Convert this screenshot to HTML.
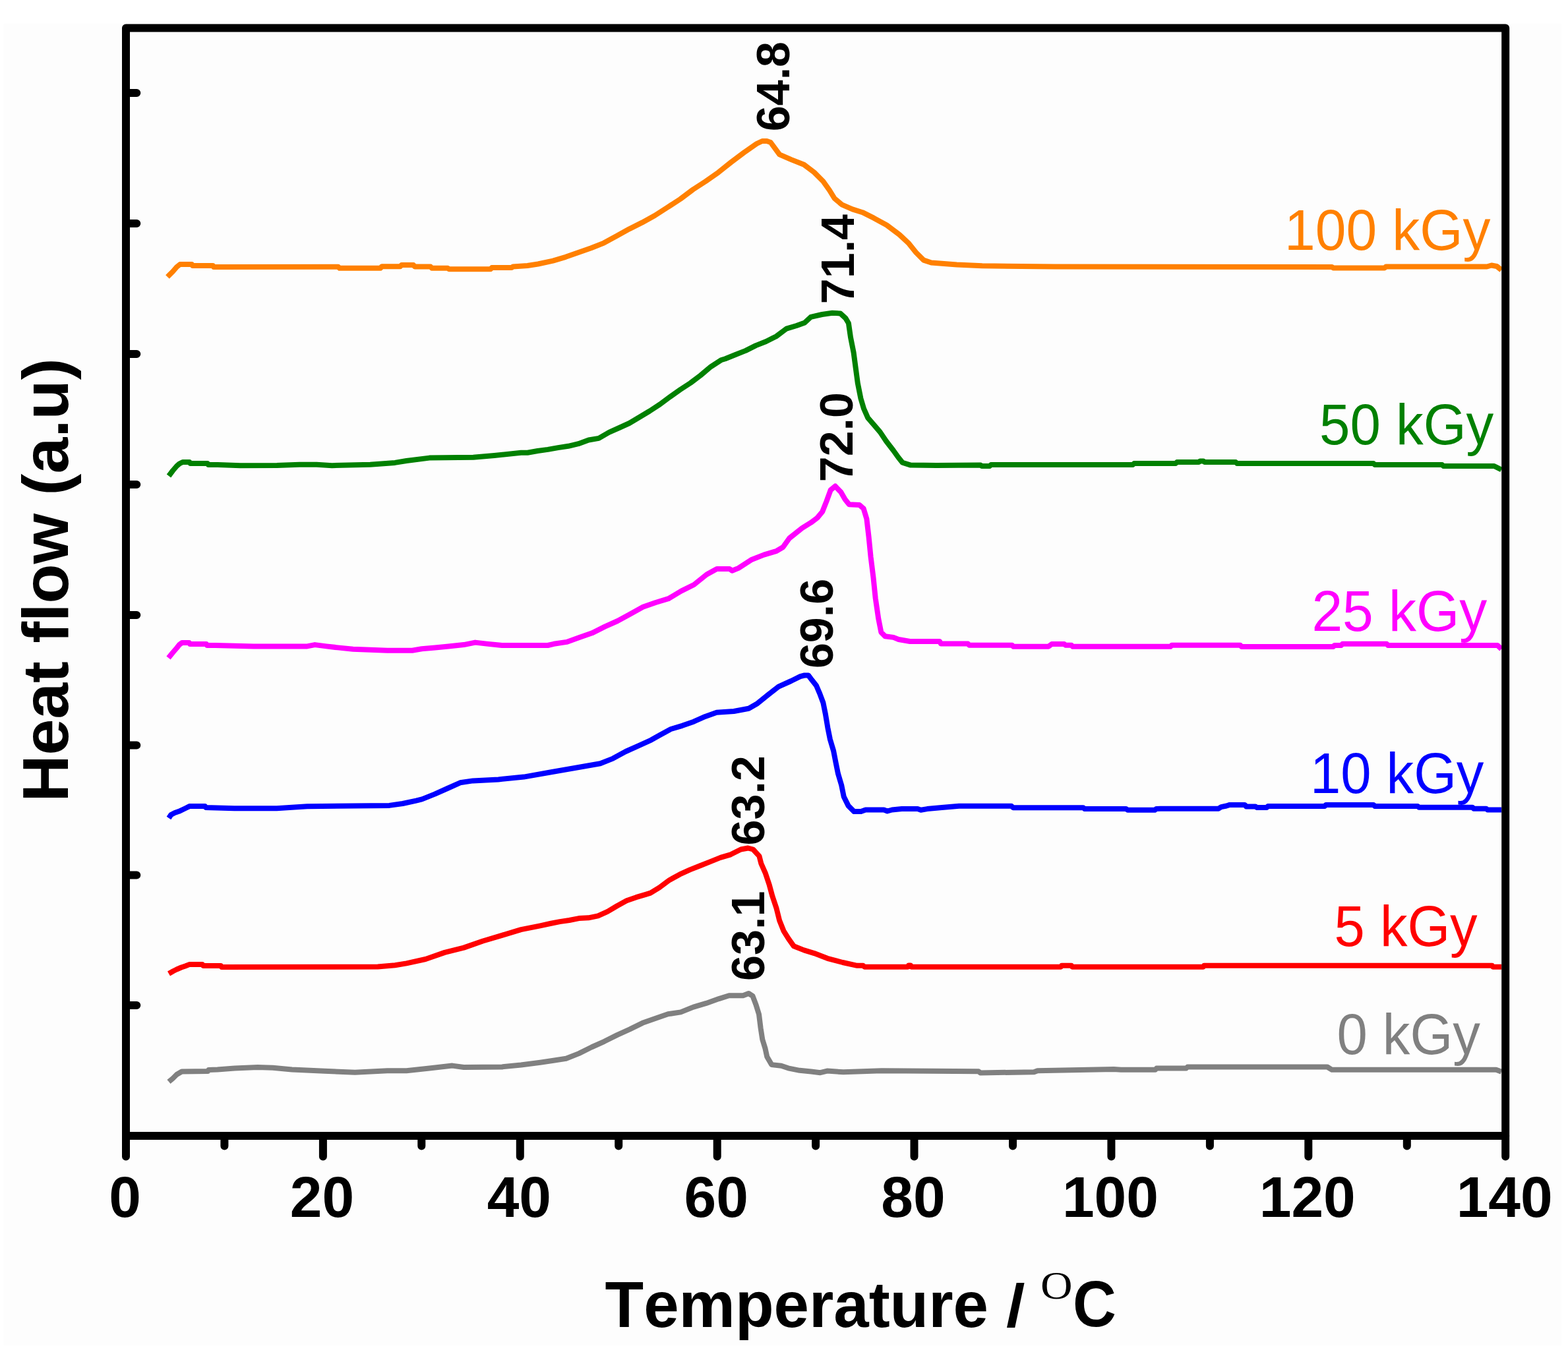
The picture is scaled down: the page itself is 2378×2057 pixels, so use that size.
<!DOCTYPE html>
<html><head><meta charset="utf-8"><title>Heat flow vs Temperature</title>
<style>html,body{margin:0;padding:0;background:#ffffff;overflow:hidden}svg{display:block}text{font-kerning:none;font-variant-ligatures:none}</style></head><body>
<svg width="2378" height="2057" viewBox="0 0 2378 2057">
<rect width="2378" height="2057" fill="#ffffff"/>
<rect x="5" y="36" width="2363" height="2005" fill="#fdfdfd"/>
<g fill="none" stroke-width="8" stroke-linejoin="round" stroke-linecap="butt">
<polyline stroke="#808080" points="256,1641 262,1636 268,1630 275.7,1625.5 315.3,1625 316.3,1623 329.8,1622.4 355.8,1620.4 390.6,1619 413.8,1619.8 442.7,1622.4 492,1624.8 538.3,1626.8 587.5,1624.2 616.5,1624.2 651.2,1620.4 686,1616.6 703.4,1619 761.3,1618.4 790.2,1615.5 819.2,1611.7 839.3,1608.7 858.6,1605.8 877.9,1598.1 897.2,1588.5 916.5,1579.8 935.8,1570.1 955.1,1561.4 974.4,1551.8 993.7,1545 1013.1,1538.3 1032.4,1535.4 1051.7,1527.6 1071,1521.9 1090.3,1515.1 1105.7,1510.3 1126.9,1510.3 1135.4,1507 1141.5,1510.8 1146.7,1524.7 1151,1538.6 1153.6,1559.5 1156.3,1576.9 1160.6,1590.8 1163.2,1602.9 1170.2,1615.1 1184.9,1616.8 1195.3,1620.3 1212.7,1623.8 1230.1,1625.5 1244,1627.2 1254.4,1624.6 1278.9,1626.3 1336.8,1624.2 1484.1,1625.2 1486.7,1627.4 1568.2,1626.3 1573.5,1624.2 1689.2,1622.1 1700,1622.8 1752,1622.8 1754,1620.5 1799,1620.5 1801,1618.5 2013,1618.5 2020,1622.8 2269,1622.8 2277,1625.8"/>
<polyline stroke="#ff0000" points="256,1477 263,1473 268,1470.5 275,1467.5 281,1465.5 287,1463.1 307,1463.1 308,1465 335,1465 336,1467 573,1466.6 599.1,1464.3 616.5,1461.4 645.4,1455 674.4,1444.9 703.4,1437.6 732.3,1427.5 761.3,1418.8 790.2,1410.1 819.2,1404.3 834.5,1401 849,1398.1 863.4,1396 877.9,1393.1 892.4,1392.3 906.9,1389.4 921.3,1382.9 935.8,1374.2 950.3,1366.3 964.8,1361.2 979.3,1356.9 986.5,1354.7 1000,1346.4 1015.4,1334.9 1030.9,1326.4 1046.3,1319.4 1061.8,1313.2 1077.2,1307.1 1092.7,1300.9 1108.1,1296.3 1123.6,1288.5 1134.4,1286.5 1142.1,1288.5 1151.4,1298.6 1154.4,1310.2 1160.6,1324.1 1166.8,1342.6 1171.4,1359.6 1177.6,1378.1 1182.2,1396.6 1188.4,1412.1 1196.1,1424.4 1203.9,1435.3 1219.3,1441.4 1234.8,1446.1 1254.8,1453.8 1278,1460 1300,1464.8 1309,1464.8 1311,1466.7 1377,1466.7 1378,1464.5 1381,1464.5 1382,1466.7 1609,1466.7 1610,1464.8 1625,1464.8 1626,1466.7 1825,1466.7 1826,1464.8 2263,1464.8 2264,1466.7 2277,1466.7"/>
<polyline stroke="#0000ff" points="256,1241 259.3,1236 265,1233 271.4,1230.8 281.5,1226 287.3,1223.1 311,1223.1 312,1225 355.8,1226.2 419.6,1226.2 465.9,1223.3 590.4,1221.9 610.7,1219 631,1214.6 640,1212.4 659.3,1204.6 678.6,1196 697.9,1187.3 717.2,1184.4 755.8,1182.4 794.4,1178.6 833,1171.8 871.7,1165 910.3,1158.3 929.6,1150.6 948.9,1140 968.2,1131.3 987.5,1122.6 1000,1115.5 1017.4,1106 1034.7,1100.8 1052.1,1094.7 1069.5,1086.9 1086.9,1080.8 1112.9,1079 1135.5,1074.7 1147.7,1067.8 1165,1053.9 1180.7,1041.7 1199.8,1033 1213.7,1026.1 1220,1024.5 1226,1024.5 1231.1,1031.3 1238,1040 1243.2,1052.1 1248.4,1066 1251.9,1083.4 1255.4,1104.2 1258.9,1121.6 1264.1,1139 1267.5,1156.4 1271,1173.7 1276.2,1191.1 1279.7,1208.5 1286.6,1222.4 1295.3,1231.1 1305.8,1231.1 1312.7,1228.5 1340.5,1228.5 1345.7,1230.5 1352.7,1228.5 1367.6,1227.1 1391.7,1227.1 1396.5,1228.8 1406.2,1227.1 1425.5,1225.2 1454.4,1222.8 1534,1222.8 1536.5,1225.2 1642.7,1225.2 1645.1,1227.1 1707.8,1227.1 1710.2,1228.8 1751.3,1228.8 1753.7,1226.9 1760,1226.7 1848,1226.7 1852,1224.2 1860,1222.5 1865,1220.9 1888,1220.9 1890,1223.4 1904,1223.4 1906,1225 1921,1225 1923,1222.9 2009,1222.9 2011,1220.9 2083,1220.9 2085,1222.9 2150,1222.9 2152,1224.7 2233,1224.7 2235,1226.7 2254,1226.7 2256,1228.5 2277,1228.5"/>
<polyline stroke="#ff00ff" points="255.5,998 262,990 268,983 272,978 276,975 287,975 288,977 313,977 314,979 326.9,979 384.8,980.4 465.9,980.4 477.5,978.1 494.8,980.4 512.2,982.4 535.4,984.8 587.5,986.8 625.2,986.8 639.6,984.2 659.9,982.4 680.2,980.4 703.4,978.1 720.7,974.6 738.1,976.6 761.3,979 830.8,979 840,976.8 859.3,973.9 878.6,967.1 897.9,960.3 917.2,950.7 936.5,942 955.8,931.4 975.1,920.8 994.4,914 1013.7,908.2 1033,896.6 1052.4,887 1071.7,871.5 1087.1,862.9 1106.4,862.9 1110.3,865.8 1119.9,861.9 1139.2,849.3 1158.5,841.6 1177.8,835.8 1187.5,830 1197.1,816.5 1216.4,801.1 1230,792.7 1239.4,785.6 1247.2,776.3 1253.4,760.6 1259.7,743.4 1266.7,737.5 1275.3,746.6 1281.6,757.5 1287.8,765.3 1303.4,766.1 1309.7,771.6 1314.4,787.2 1317.5,813.8 1320.6,845 1324.5,876.3 1327.7,907.5 1332.3,938.8 1336.3,959.1 1342.5,965.3 1355,966.9 1362.8,970 1380,973 1425,973 1427,976.6 1468,976.6 1470,978.8 1535,978.8 1537,980.8 1590,980.8 1595,977.1 1614,977.1 1616,978.8 1625,978.8 1627,980.8 1775,980.8 1777,978.8 1881,978.8 1883,980.9 2022,980.9 2024,978.9 2034,978.9 2036,976.8 2103,976.8 2105,978.9 2271,978.9 2277,984.5"/>
<polyline stroke="#008000" points="256,722 262,714 268,707 272,703.5 277,701 287.5,701 288.5,703 314.8,703 315.8,705 330,705 364.5,706.2 420,706 454.3,704.8 480,704.8 503.5,706.2 561.5,704.8 599,701.9 616.5,699 651.2,694.6 717.8,693.7 749.7,690.9 790.2,686.8 800,686.8 815.4,684 830.9,681.9 846.3,679.1 861.8,676.8 877.2,673.2 892.7,667.5 908.1,664.9 923.6,655.9 939,649 954.4,642 969.9,632.7 985.3,623.5 1000.8,613.4 1016.2,601.9 1031.7,591 1047.1,581 1062.5,569.4 1078,556.3 1093.4,546.3 1100,544.2 1115.4,538 1130.9,531.9 1146.3,524.1 1161.8,518 1177.2,510.2 1192.7,498.6 1208.1,494 1220.5,489.4 1229.7,480.9 1246.7,477 1262.2,474.7 1274.5,475.5 1282.2,482.4 1286.9,490.2 1290,511.8 1294.6,534.9 1297.7,558.1 1300.8,581.3 1305.4,604.4 1310,619.9 1316.2,633.8 1325.5,644.6 1334.7,655.4 1344,669.3 1354.8,683.2 1362.5,694 1368.7,701.7 1381.1,705.6 1420,706 1487,705.5 1489,707 1501,707 1503,705 1718,705 1720,703 1783,703 1785,701 1818,701 1820,699.5 1825,699.5 1827,701 1874,701 1876,703 2083,703 2085,705 2187,705 2189,707 2266,707 2277,712.5"/>
<polyline stroke="#ff8000" points="254,420 262,412 268,405 273,401 291,401 292,403 323,403 324,405 328,405 513,404.8 515,406.8 577,406.8 579,404.2 607,404.2 609,402.1 627,402.1 629,404.5 653,404.5 655,406.8 679,406.8 681,408.2 744,408.2 746,406 776,406 778,404.5 800,403 816,400.5 838.6,395.6 857.9,389.8 877.2,383 896.5,376.3 915.8,368.6 935.1,358 954.4,347.3 973.7,337.7 993,327 1012.4,314.5 1031.7,302 1051,287.5 1070.3,275 1089.6,261.4 1108.9,246 1128.2,231.5 1147.5,218 1156,214 1163,214 1168.7,216 1182.2,234.4 1200,242.1 1219.3,249.8 1234.7,261.4 1248.3,275 1257.9,288.5 1265.6,301 1277.2,310.7 1292.7,317.4 1308.1,322.2 1325.5,330.9 1344.8,341.5 1364.1,356 1377.6,368.6 1389.2,383 1400.8,394.6 1412.4,398.5 1451,401.4 1489.6,403.3 1600,404.5 2020,405 2022,406.4 2100,406.4 2102,404.5 2255,404.5 2262,402.5 2270,404 2277,409.5"/>
</g>
<g stroke="#000" stroke-width="12" fill="none" stroke-linecap="round" stroke-linejoin="round">
<path d="M191,42.4 H2283.2 V1723 H191 Z"/>
<path d="M191,140.9H207.3M191,338.9H207.3M191,536.9H207.3M191,734.9H207.3M191,932.9H207.3M191,1130.6H207.3M191,1327.4H207.3M191,1524.9H207.3"/>
<path d="M191.0,1723V1754.4M340.4,1723V1738.5M489.9,1723V1754.4M639.3,1723V1738.5M788.8,1723V1754.4M938.2,1723V1738.5M1087.7,1723V1754.4M1237.1,1723V1738.5M1386.5,1723V1754.4M1536.0,1723V1738.5M1685.4,1723V1754.4M1834.9,1723V1738.5M1984.3,1723V1754.4M2133.8,1723V1738.5M2283.2,1723V1754.4"/>
</g>
<g font-family="Liberation Sans, Arial, sans-serif" font-weight="bold" font-size="87.5" text-anchor="middle" fill="#000">
<text x="189.5" y="1846">0</text>
<text x="488.4" y="1846">20</text>
<text x="787.3" y="1846">40</text>
<text x="1086.2" y="1846">60</text>
<text x="1385.0" y="1846">80</text>
<text x="1683.9" y="1846">100</text>
<text x="1982.8" y="1846">120</text>
<text x="2281.7" y="1846">140</text>
</g>
<text transform="translate(103.4,1216.6) rotate(-90)" font-family="Liberation Sans, Arial, sans-serif" font-weight="bold" font-size="98.5" fill="#000">Heat flow (a.u)</text>
<text transform="translate(917.5,2012.7) scale(1,1.015)" font-family="Liberation Sans, Arial, sans-serif" font-weight="bold" font-size="96" fill="#000">Temperature</text>
<text transform="translate(1525.9,2011.5) scale(1.07,0.946)" font-family="Liberation Sans, Arial, sans-serif" font-weight="bold" font-size="96" fill="#000">/</text>
<text transform="translate(1578,1970.3) scale(1.14,1)" font-family="Liberation Serif, Times New Roman, serif" font-size="59" fill="#000">O</text>
<text transform="translate(1627,2011.65) scale(0.935,1)" font-family="Liberation Sans, Arial, sans-serif" font-weight="bold" font-size="97.5" fill="#000">C</text>
<g font-family="Liberation Sans, Arial, sans-serif" font-size="83.5">
<text transform="translate(1948.1,378.9) scale(1,1.04)" font-size="83.9" fill="#ff8000">100 kGy</text>
<text transform="translate(2001.1,674.3) scale(1,1.04)" font-size="83.4" fill="#008000">50 kGy</text>
<text transform="translate(1989.4,956.9) scale(1,1.04)" font-size="83.9" fill="#ff00ff">25 kGy</text>
<text transform="translate(1986.9,1202.8) scale(1,1.04)" font-size="83.2" fill="#0000ff">10 kGy</text>
<text transform="translate(2023.6,1434.5) scale(1,1.04)" font-size="83.1" fill="#ff0000">5 kGy</text>
<text transform="translate(2027.4,1598.7) scale(1,1.04)" font-size="83.3" fill="#808080">0 kGy</text>
</g>
<g font-family="Liberation Sans, Arial, sans-serif" font-weight="bold" font-size="70" fill="#000">
<text transform="translate(1197,199.2) rotate(-90)">64.8</text>
<text transform="translate(1295.3,461.2) rotate(-90)">71.4</text>
<text transform="translate(1293.2,731.3) rotate(-90)">72.0</text>
<text transform="translate(1263.3,1014.1) rotate(-90)">69.6</text>
<text transform="translate(1159.1,1282.4) rotate(-90)">63.2</text>
<text transform="translate(1159.4,1487.9) rotate(-90)">63.1</text>
</g>
</svg></body></html>
